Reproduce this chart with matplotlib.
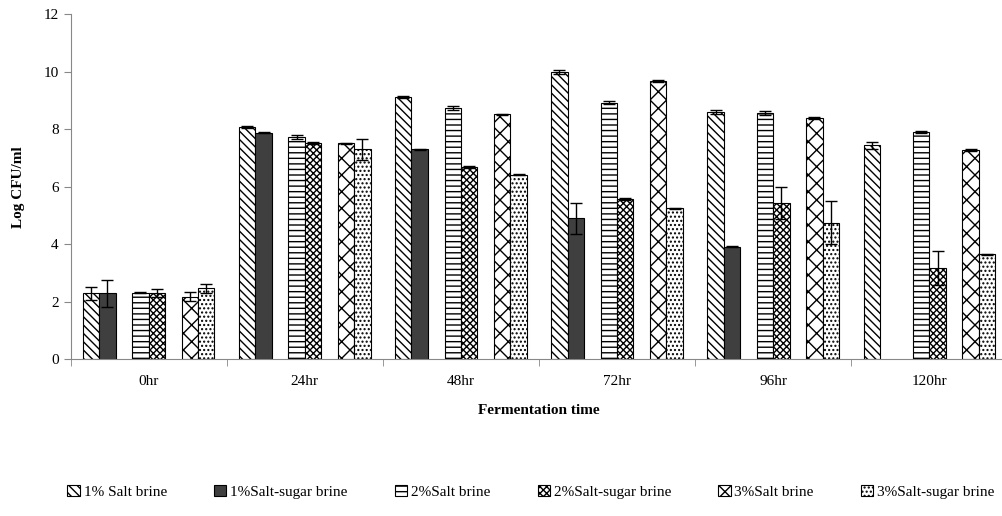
import numpy as np
import matplotlib
matplotlib.use("Agg")
import matplotlib.pyplot as plt
from matplotlib.ticker import MultipleLocator

plt.rcParams['font.family'] = ['Liberation Serif', 'DejaVu Serif']
plt.rcParams['hatch.linewidth'] = 1.0

times = ["0hr", "24hr", "48hr", "72hr", "96hr", "120hr"]
series = ["1% Salt brine", "1%Salt-sugar brine", "2%Salt brine",
          "2%Salt-sugar brine", "3%Salt brine", "3%Salt-sugar brine"]

salt1 = [2.30, 8.09, 9.12, 10.00, 8.61, 7.44]
salt1_err = [0.23, 0.03, 0.03, 0.06, 0.07, 0.12]
sugar1 = [2.30, 7.89, 7.31, 4.91, 3.92, np.nan]
sugar1_err = [0.48, 0.02, 0.02, 0.54, 0.02, np.nan]
salt2 = [2.32, 7.75, 8.75, 8.93, 8.57, 7.92]
salt2_err = [0.02, 0.07, 0.06, 0.05, 0.07, 0.03]
sugar2 = [2.30, 7.52, 6.69, 5.58, 5.43, 3.19]
sugar2_err = [0.14, 0.03, 0.02, 0.02, 0.56, 0.59]
salt3 = [2.18, 7.52, 8.52, 9.69, 8.39, 7.28]
salt3_err = [0.15, 0.02, 0.03, 0.03, 0.03, 0.02]
sugar3 = [2.48, 7.31, 6.43, 5.25, 4.76, 3.65]
sugar3_err = [0.16, 0.37, 0.02, 0.02, 0.74, 0.02]

values = [salt1, sugar1, salt2, sugar2, salt3, sugar3]
errors = [salt1_err, sugar1_err, salt2_err, sugar2_err, salt3_err, sugar3_err]

offsets = [-0.369, -0.264, -0.0525, 0.0525, 0.264, 0.369]
width = 0.105
styles = [
    dict(facecolor='white', hatch='\\\\\\\\'),
    dict(facecolor='#3f3f3f', hatch=None),
    dict(facecolor='white', hatch='---'),
    dict(facecolor='white', hatch='xxxxx'),
    dict(facecolor='white', hatch='xx'),
    dict(facecolor='white', hatch='....'),
]

fig = plt.figure(figsize=(10.02, 5.16), dpi=100)
ax = fig.add_axes([0.0704, 0.3033, 0.935, 0.669])

x = np.arange(len(times))
for i in range(len(series)):
    ax.bar(x + offsets[i], values[i], width, label=series[i],
           edgecolor='black', linewidth=0.8, **styles[i])
    ax.errorbar(x + offsets[i], values[i], yerr=errors[i], fmt='none',
                ecolor='black', elinewidth=1.0, capsize=4, capthick=1.0)

ax.set_xlim(-0.5, 5.5)
ax.set_ylim(0, 12)
ax.yaxis.set_major_locator(MultipleLocator(2))
ax.set_xticks(x)
ax.set_xticklabels(times, fontsize=11)
ax.set_xticks(np.arange(-0.5, 6, 1), minor=True)
ax.tick_params(axis='x', which='major', length=0, pad=11)
ax.tick_params(axis='x', which='minor', length=5, color='#888888')
ax.tick_params(axis='y', labelsize=11, length=5, color='#888888')
for s in ['top', 'right']:
    ax.spines[s].set_visible(False)
for s in ['left', 'bottom']:
    ax.spines[s].set_color('#888888')

ax.set_xlabel("Fermentation time", fontsize=11, fontweight='bold', labelpad=12)
ax.set_ylabel("Log CFU/ml", fontsize=11, fontweight='bold', labelpad=13)

fig.legend(loc='center', bbox_to_anchor=(0.53, 0.047), ncol=6, frameon=False,
           fontsize=11, handlelength=0.8, handleheight=0.8, handletextpad=0.25,
           columnspacing=3.1)

fig.savefig("out.png", dpi=100)
